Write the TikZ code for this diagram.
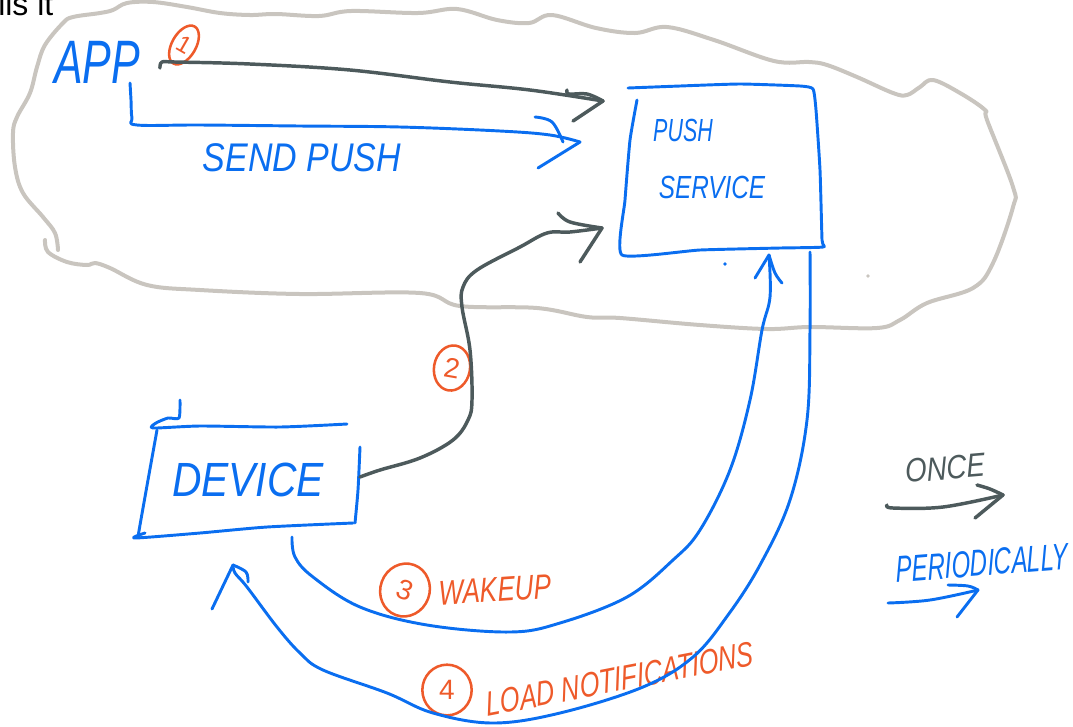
\documentclass[tikz,border=0pt]{standalone}
\usepackage{fontspec}
\setmainfont{Liberation Sans}
\usetikzlibrary{arrows.meta,shapes.geometric}
\definecolor{inkblue}{HTML}{0A6EF0}
\definecolor{inkgray}{HTML}{4D5A5C}
\definecolor{inkorange}{HTML}{EE5A2A}
\definecolor{cloudgray}{HTML}{C9C5BF}
\begin{document}
\begin{tikzpicture}[x=0.75pt,y=-0.75pt,line cap=round,line join=round,
  blueink/.style={draw=inkblue,line width=2.2pt},
  grayink/.style={draw=inkgray,line width=2.6pt},
  cloudline/.style={draw=cloudgray,line width=3pt},
  hand/.style={inner sep=0pt,font=\itshape},
  circnum/.style={draw=inkorange,line width=1.9pt,ellipse,inner sep=0pt,text=inkorange,font=\fontsize{21}{21}\selectfont},
  smoothline/.style={smooth,tension=0.6}]
\useasboundingbox (0,0) rectangle (1073,726);

% cut-off caption
\node[anchor=base west,inner sep=0pt,font=\fontsize{24}{24}\selectfont] (cap) at (-2,15) {lls it};

% cloud
\draw[cloudline] plot[smoothline] coordinates {(45,240) (48,252) (67,262) (87,265) (95,263) (110,268) (147,285) (200,290) (300,294) (420,293) (460,306) (537,308) (587,317) (620,318) (700,325) (767,329) (810,327) (877,328) (900,320) (927,303) (973,288) (993,263) (1013,207) (1013,187) (987,120) (985,110) (960,93) (933,80) (920,87) (907,95) (893,93) (857,77) (827,65) (809,62) (774,61) (714,40) (667,27) (635,33) (596,28) (552,15) (529,23) (497,20) (457,9) (418,13) (351,11) (319,16) (276,14) (250,15) (220,13) (187,7) (153,2) (127,3) (113,10) (100,13) (73,17) (63,23) (45,45) (37,67) (30,93) (17,117) (13,133) (15,167) (23,193) (43,217) (55,233) (58,250)};

% texts
\node[hand,text=inkblue,font=\itshape\fontsize{46}{46}\selectfont,xscale=0.7] (app) at (97,62) {APP};
\node[hand,text=inkblue,font=\itshape\fontsize{30}{30}\selectfont,xscale=0.85] (send) at (302,158) {SEND PUSH};
\node[hand,text=inkblue,font=\itshape\fontsize{24}{24}\selectfont,xscale=0.67] (push) at (683,130) {PUSH};
\node[hand,text=inkblue,font=\itshape\fontsize{24}{24}\selectfont,xscale=0.76] (service) at (712,187) {SERVICE};
\node[hand,text=inkblue,font=\itshape\fontsize{36}{36}\selectfont,xscale=0.85] (device) at (248,480) {DEVICE};
\node[hand,text=inkorange,font=\itshape\fontsize{26}{26}\selectfont,xscale=0.75,rotate=3] (wake) at (495,590) {WAKEUP};
\node[hand,text=inkorange,font=\itshape\fontsize{26}{26}\selectfont,xscale=0.73,rotate=8] (load) at (620,679) {LOAD NOTIFICATIONS};
\node[hand,text=inkgray,font=\itshape\fontsize{25}{25}\selectfont,xscale=0.83,rotate=4] (once) at (945,468) {ONCE};
\node[hand,text=inkblue,font=\itshape\fontsize{28}{28}\selectfont,xscale=0.64,rotate=3] (period) at (982,563) {PERIODICALLY};

% circled numbers
\node[circnum,minimum width=18pt,minimum height=32pt,rotate=-30,font=\fontsize{18}{18}\selectfont] (n1) at (184,45) {1};
\node[circnum,minimum width=27pt,minimum height=34pt,rotate=-10] (n2) at (452,368) {2};
\node[circnum,minimum width=37pt,minimum height=40pt,rotate=-20] (n3) at (405,590) {3};
\node[circnum,minimum width=37pt,minimum height=38pt] (n4) at (447,690) {4};

% push service box
\draw[blueink] plot[smooth,tension=0.3] coordinates {(637,100) (630,140) (625,200) (622,255) (700,250) (780,248) (823,247) (822,240) (820,170) (816,110) (813,89) (800,86) (740,84) (680,86) (628,88)};
% device box
\draw[blueink] plot[smooth,tension=0.4] coordinates {(180,400) (179,418) (168,418) (156,423) (153,428) (200,426) (280,427) (347,424)};
\draw[blueink] plot[smooth,tension=0.4] coordinates {(157,430) (148,480) (140,525) (138,537)};
\draw[blueink] plot[smooth,tension=0.4] coordinates {(145,533) (135,538) (200,533) (267,527) (353,523)};
\draw[blueink] plot[smooth,tension=0.4] coordinates {(360,447) (358,490) (355,523)};

% coordinates for connector ends
\coordinate (a1s) at (160,68);
\coordinate (a1e) at (603,101);
\coordinate (bps) at (130,83);
\coordinate (bpe) at (580,142);
\coordinate (a2s) at (360,477);
\coordinate (a2e) at (602,228);
\coordinate (a3s) at (292,537);
\coordinate (a3e) at (769,255);
\coordinate (a4s) at (810,252);
\coordinate (a4e) at (233,565);
\coordinate (los) at (887,505);
\coordinate (loe) at (1003,495);
\coordinate (lps) at (888,603);
\coordinate (lpe) at (978,590);

% arrow 1: app -> push service (once)
\draw[grayink] plot[smoothline] coordinates {(a1s) (162,62) (175,62) (250,64) (350,70) (450,82) (530,90) (a1e)};
\draw[grayink] plot[smoothline] coordinates {(567,90) (569,94) (587,94) (a1e)};
\draw[grayink] (a1e) -- (573,121);

% send push (blue)
\draw[blueink] plot[smoothline] coordinates {(bps) (131,100) (132,118) (137,125) (200,125) (300,126) (400,127) (500,131) (550,135) (bpe)};
\draw[blueink] plot[smoothline] coordinates {(535,117) (552,122) (563,142)};
\draw[blueink] (bpe) -- (538,168);

% arrow 2: device -> push service
\draw[grayink] plot[smoothline] coordinates {(a2s) (380,470) (420,458) (453,440) (468,420) (472,400) (470,350) (462,307) (463,287) (477,270) (520,247) (547,233) (570,232) (a2e)};
\draw[grayink] plot[smoothline] coordinates {(558,213) (570,222) (a2e)};
\draw[grayink] (a2e) -- (580,262);

% arrow 3: wakeup
\draw[blueink] plot[smoothline] coordinates {(a3s) (295,557) (313,577) (360,607) (427,625) (510,632) (560,623) (627,597) (673,560) (700,530) (730,470) (750,400) (762,330) (770,297) (a3e)};
\draw[blueink] (755,278) -- (a3e);
\draw[blueink] plot[smoothline] coordinates {(a3e) (775,273) (782,283)};

% arrow 4: load notifications
\draw[blueink] plot[smoothline] coordinates {(a4s) (810,330) (807,420) (790,500) (760,565) (728,615) (693,657) (643,687) (560,713) (493,723) (433,713) (387,693) (323,670) (300,653) (277,627) (247,587) (235,573) (a4e)};
\draw[blueink] (212,609) -- (a4e);
\draw[blueink] plot[smoothline] coordinates {(a4e) (246,572) (248,582)};

% legend arrows
\draw[grayink] plot[smoothline] coordinates {(los) (893,508) (943,507) (loe)};
\draw[grayink] plot[smoothline] coordinates {(977,485) (990,489) (loe)};
\draw[grayink] (loe) -- (975,518);
\draw[blueink] plot[smoothline] coordinates {(lps) (930,600) (lpe)};
\draw[blueink] plot[smoothline] coordinates {(948,585) (968,586) (lpe)};
\draw[blueink] (lpe) -- (957,617);

% stray dots
\fill[inkblue] (725,264) circle[radius=1.8];
\fill[cloudgray] (868,276) circle[radius=1.8];
\end{tikzpicture}
\end{document}
